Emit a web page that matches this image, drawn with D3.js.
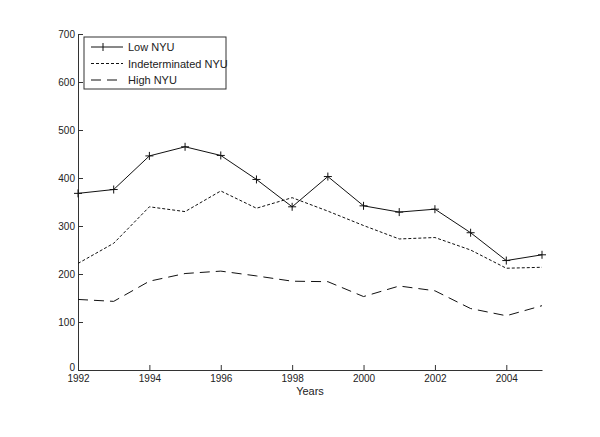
<!DOCTYPE html>
<html>
<head>
<meta charset="utf-8">
<script src="https://cdn.jsdelivr.net/npm/d3@7"></script>
<style>
  body { margin: 0; background: #fff; }
  text { font-family: "Liberation Sans", Arial, sans-serif; fill: #222; }
</style>
</head>
<body>
<script>
// chart values
var years = [1992,1993,1994,1995,1996,1997,1998,1999,2000,2001,2002,2003,2004,2005]
var lowNYU = [368,376,446,465,447,397,340,403,342,329,335,286,228,240]
var indetNYU = [222,264,340,330,373,337,359,331,301,273,276,250,212,214]
var highNYU = [147,143,185,201,206,196,185,184,153,175,165,128,113,134]
var xTicks = [1992,1994,1996,1998,2000,2002,2004]
var yTicks = [0,100,200,300,400,500,600,700]

var seriesNames = ['Low NYU', 'Indeterminated NYU', 'High NYU']
var seriesDash = [null, '3,2', '10,6']

var W = 600, H = 437
var margin = {top: 34, right: 58, bottom: 67, left: 78}
var width = W - margin.left - margin.right,
    height = H - margin.top - margin.bottom

var svg = d3.select('body').append('svg')
  .attr('width', W).attr('height', H)

var g = svg.append('g')
  .attr('transform', 'translate(' + margin.left + ',' + margin.top + ')')

var xScale = d3.scaleLinear().domain([1992, 2005]).range([0, width])
var yScale = d3.scaleLinear().domain([0, 700]).range([height, 0])

// axes, ticks pointing inwards like matlab
var xAxis = d3.axisBottom(xScale).tickValues(xTicks).tickFormat(d3.format('d'))
  .tickSizeInner(-5).tickSizeOuter(0).tickPadding(6)
var yAxis = d3.axisLeft(yScale).tickValues(yTicks)
  .tickSizeInner(-5).tickSizeOuter(0).tickPadding(3)

var gx = g.append('g').attr('transform', 'translate(0,' + height + ')').call(xAxis)
var gy = g.append('g').call(yAxis)

g.selectAll('.domain').attr('stroke', '#333')
g.selectAll('.tick line').attr('stroke', '#333')
g.selectAll('.tick text').style('font-size', '10px').style('font-family', '"Liberation Sans", Arial, sans-serif').attr('fill', '#222')
gx.selectAll('.tick text').attr('dy', '0.6em')
// the "0" label sits just above the corner
gy.selectAll('.tick text').filter(function(d) { return d === 0 }).attr('dy', '0.05em')

g.append('text')
  .attr('x', xScale(1998.5)).attr('y', height + 25)
  .attr('text-anchor', 'middle')
  .style('font-size', '11px')
  .text('Years')

var lineGenerator = d3.line()
  .x(function(d, i) { return xScale(years[i]) })
  .y(function(d) { return yScale(d) })

var allSeries = [lowNYU, indetNYU, highNYU]

allSeries.forEach(function(s, k) {
  g.append('path')
    .datum(s)
    .attr('fill', 'none')
    .attr('stroke', '#111')
    .attr('stroke-width', 1)
    .attr('stroke-dasharray', seriesDash[k])
    .attr('d', lineGenerator)
})

// plus markers on Low NYU
g.selectAll('.plus')
  .data(lowNYU)
  .enter().append('path')
  .attr('class', 'plus')
  .attr('transform', function(d, i) { return 'translate(' + xScale(years[i]) + ',' + yScale(d) + ')' })
  .attr('d', 'M-4,0H4M0,-4V4')
  .attr('stroke', '#111')
  .attr('stroke-width', 1)

// legend
var leg = svg.append('g').attr('transform', 'translate(84,37)')
leg.append('rect')
  .attr('width', 142).attr('height', 52)
  .attr('fill', '#fff').attr('stroke', '#333')

seriesNames.forEach(function(name, k) {
  var yy = 10 + k * 16.5
  leg.append('line')
    .attr('x1', 7).attr('x2', 39).attr('y1', yy).attr('y2', yy)
    .attr('stroke', '#111')
    .attr('stroke-dasharray', seriesDash[k])
  if (k === 0) {
    leg.append('path').attr('d', 'M19,' + (yy - 4) + 'V' + (yy + 4)).attr('stroke', '#111')
  }
  leg.append('text')
    .attr('x', 44).attr('y', yy + 4)
    .style('font-size', '11px')
    .text(name)
})
</script>
</body>
</html>
